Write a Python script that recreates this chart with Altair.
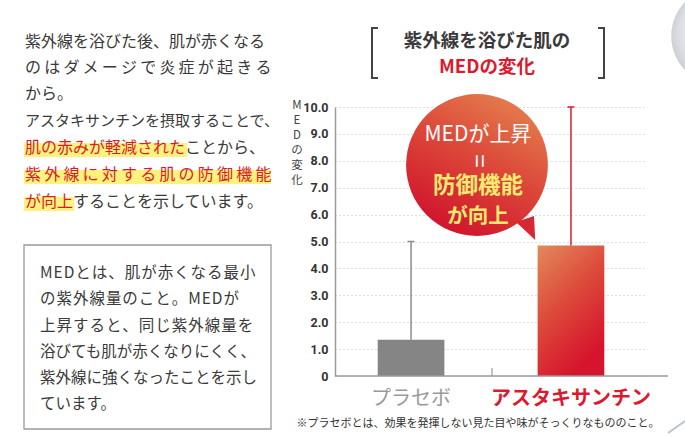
import altair as alt
import pandas as pd

# ---------------- data ----------------
categories = ["プラセボ", "アスタキサンチン"]
med_values = [1.35, 4.85]
med_upper = [5.0, 10.0]
y_ticks = [0, 1, 2, 3, 4, 5, 6, 7, 8, 9, 10]

title_lines = ["紫外線を浴びた肌の", "MEDの変化"]
bubble_lines = ["MEDが上昇", "=", "防御機能", "が向上"]
y_title_chars = ["M", "E", "D", "の", "変", "化"]
footnote = "※プラセボとは、効果を発揮しない見た目や味がそっくりなもののこと。"

T = "\u2009"   # thin space (justification)
HS = "\u200a"  # hair space (justification)
para_plain = [
    "紫外線を浴びた後、肌が赤くなる",
    T.join("のはダメージで炎症が起きる"),
    "から。",
    "アスタキサンチンを摂取することで、",
]
para_l5 = ["肌の赤みが軽減された", "ことから、"]
para_l6 = T.join("紫外線に対する肌の防御機能")
para_l7 = ["が向上", "することを示しています。"]

box_lines = [
    HS.join("MEDとは、肌が赤くなる最小"),
    HS.join("の紫外線量のこと。MEDが"),
    HS.join("上昇すると、同じ紫外線量を"),
    "浴びても肌が赤くなりにくく、",
    "紫外線に強くなったことを示し",
    "ています。",
]

df = pd.DataFrame({"group": categories, "med": med_values, "upper": med_upper})

# ---------------- layout helpers ----------------
X0, Y0 = 335, 107
W, H = 333, 269
FONT = "Noto Sans CJK JP"
RED = "#dc1a2e"
DARK = "#3a3a3a"
GRAY = "#858585"
one = pd.DataFrame({"k": [0]})


def px(x):
    return alt.value(x - X0)


def py(y):
    return alt.value(y - Y0)


def label(text, x, y, size, color, weight="normal", align="left", angle=None, font=FONT):
    kw = dict(text=text, fontSize=size, color=color, fontWeight=weight,
              align=align, baseline="middle", font=font)
    if angle is not None:
        kw["angle"] = angle
    return alt.Chart(one).mark_text(**kw).encode(x=px(x), y=py(y))


def rect(x1, y1, x2, y2, **kw):
    return alt.Chart(one).mark_rect(**kw).encode(x=px(x1), x2=px(x2), y=py(y1), y2=py(y2))


def rule(x1, y1, x2, y2, color, width):
    return alt.Chart(one).mark_rule(color=color, strokeWidth=width).encode(
        x=px(x1), x2=px(x2), y=py(y1), y2=py(y2))


# ---------------- chart ----------------
x_scale = alt.Scale(domain=categories, range=[0, 312], paddingInner=0.583, paddingOuter=0.267)
y_scale = alt.Scale(domain=[0, 10], nice=False)

base = alt.Chart(df).encode(x=alt.X("group:N", scale=x_scale, axis=None, sort=categories))

y_axis = alt.Axis(values=y_ticks, title=None, tickCount=11,
                  labelExpr="datum.value == 0 ? '0' : format(datum.value, '.1f')",
                  labelFont="Roboto", labelFontWeight="bold", labelFontSize=12.5,
                  labelColor="#333333", labelPadding=7, ticks=False, labelOverlap=False,
                  domainColor="#9a9a9a", domainWidth=1.5,
                  grid=True, gridColor="#bdbdbd", gridDash=[1, 3], gridWidth=1)

bar_grad = alt.LinearGradient(
    gradient="linear",
    stops=[alt.GradientStop(color="#e3895b", offset=0),
           alt.GradientStop(color="#dc4a3a", offset=0.5),
           alt.GradientStop(color="#d6142d", offset=1)],
    x1=0, y1=0, x2=0.5, y2=1)

Y_MED = alt.Y("med:Q", scale=y_scale, axis=y_axis)
Y_UP = alt.Y("upper:Q", scale=y_scale, axis=y_axis)

bars_placebo = base.transform_filter(alt.datum.group == categories[0]).mark_bar(
    color=GRAY, opacity=1).encode(y=Y_MED)
bars_asta = base.transform_filter(alt.datum.group == categories[1]).mark_bar(
    color=bar_grad, opacity=1).encode(y=Y_MED)

err_color = alt.Color("group:N", scale=alt.Scale(domain=categories, range=["#8c8c8c", RED]), legend=None)
err = base.mark_rule(strokeWidth=1.5).encode(y=Y_MED, y2="upper:Q", color=err_color)
caps = base.mark_tick(size=7, thickness=1.5, opacity=1).encode(y=Y_UP, color=err_color)

baseline = alt.Chart(one).mark_rule(color="#9a9a9a", strokeWidth=1.5).encode(
    x=alt.value(0), x2=alt.value(W), y=alt.value(H))
mid_tick = rule(492, 368, 492, 376, "#9a9a9a", 1.2)

cat_placebo = base.transform_filter(alt.datum.group == categories[0]).mark_text(
    font=FONT, fontSize=20, color="#9a9a9a", baseline="middle").encode(text="group:N", y=py(399))
cat_asta = base.transform_filter(alt.datum.group == categories[1]).mark_text(
    font=FONT, fontSize=20, fontWeight="bold", color=RED, baseline="middle").encode(text="group:N", y=py(399))

# bubble
bubble_grad = alt.LinearGradient(
    gradient="linear",
    stops=[alt.GradientStop(color="#e5824f", offset=0),
           alt.GradientStop(color="#dc4a3a", offset=0.45),
           alt.GradientStop(color="#d0102c", offset=1)],
    x1=0.8, y1=0, x2=0.25, y2=1)
bubble = alt.Chart(one).mark_point(shape="circle", filled=True, size=3.14159 * 80 ** 2,
                                   color=bubble_grad, opacity=1, strokeWidth=0).encode(x=px(477), y=py(165))
tail = alt.Chart(one).mark_point(shape="M -1 -0.5 L 0.5 -1 L 0.6 1 Z", filled=True, size=576,
                                 color="#d62833", opacity=1, strokeWidth=0).encode(x=px(528), y=py(228))
b1 = label(bubble_lines[0], 478, 135, 21, "white", weight="normal", align="center")
b2 = label(bubble_lines[1], 478, 161, 24, "white", align="center", angle=90)
b3 = label(bubble_lines[2], 478, 186, 22.5, "#f8ea70", weight="bold", align="center")
b4 = label(bubble_lines[3], 478, 217, 20.5, "#f8ea70", weight="bold", align="center")

# sphere (top right decoration)
sphere_grad = alt.RadialGradient(
    gradient="radial",
    stops=[alt.GradientStop(color="#f3f4f6", offset=0),
           alt.GradientStop(color="#dcdfe4", offset=0.7),
           alt.GradientStop(color="#c3c8d0", offset=1)],
    x1=0.4, y1=0.4, r1=0, x2=0.5, y2=0.5, r2=0.55)
sphere = alt.Chart(one).mark_point(shape="circle", filled=True, size=3.14159 * 55 ** 2,
                                   color=sphere_grad, opacity=1, strokeWidth=0).encode(x=px(720), y=py(36))
deco_line = rule(668, 433, 685, 421, "#b9c4d0", 2)

# title with brackets
t1 = label(title_lines[0], 487, 41, 18.5, DARK, weight="bold", align="center")
t2 = label(title_lines[1], 487, 67, 18.5, RED, weight="bold", align="center")
br = [
    rule(372, 28, 372, 78, "#444444", 2), rule(371, 28, 378, 28, "#444444", 2), rule(371, 78, 378, 78, "#444444", 2),
    rule(604, 28, 604, 78, "#444444", 2), rule(598, 28, 605, 28, "#444444", 2), rule(598, 78, 605, 78, "#444444", 2),
]

# y title (vertical, one character per line)
YT = [106, 121, 136, 151, 166, 181]
ytitle = [label(c, 297, y, 11.5, "#444444", align="center") for c, y in zip(y_title_chars, YT)]

foot = label(footnote, 478, 424, 11, "#333333", align="center")

# left paragraph
YL = [42, 68, 94, 121, 148, 175, 202]
YEL = "#fdf27b"
hl = [
    rect(24, YL[4] - 5, 187, YL[4] + 9, color=YEL),
    rect(24, YL[5] - 5, 271, YL[5] + 9, color=YEL),
    rect(24, YL[6] - 5, 74, YL[6] + 9, color=YEL),
]
para = [
    label(para_plain[0], 25, YL[0], 16, DARK),
    label(para_plain[1], 25, YL[1], 16, DARK),
    label(para_plain[2], 25, YL[2], 16, DARK),
    label(para_plain[3], 25, YL[3], 15, DARK),
    label(para_l5[0], 25, YL[4], 16, RED),
    label(para_l5[1], 25 + 16 * 10, YL[4], 16, DARK),
    label(para_l6, 25, YL[5], 16, RED),
    label(para_l7[0], 25, YL[6], 16, RED),
    label(para_l7[1], 25 + 16 * 3, YL[6], 16, DARK),
]

# box
box = rect(24, 245, 271, 429, fillOpacity=0, stroke="#9a9a9a", strokeWidth=1.3)
YB = [273, 299, 326, 352, 378, 404]
box_text = [label(t, 40, y, 15.5, DARK) for t, y in zip(box_lines, YB)]

chart = alt.layer(
    sphere, deco_line, *hl, *para, box, *box_text, *br, t1, t2, *ytitle,
    bars_placebo, bars_asta, err, caps, baseline, mid_tick, cat_placebo, cat_asta,
    bubble, tail, b1, b2, b3, b4, foot,
).properties(
    width=W, height=H,
    padding={"left": X0, "top": Y0, "right": 685 - X0 - W, "bottom": 438 - Y0 - H},
    autosize=alt.AutoSizeParams(type="none"),
    background="white",
).configure_view(stroke=None)

chart.save("out.html", embed_options={"renderer": "svg", "actions": False})
